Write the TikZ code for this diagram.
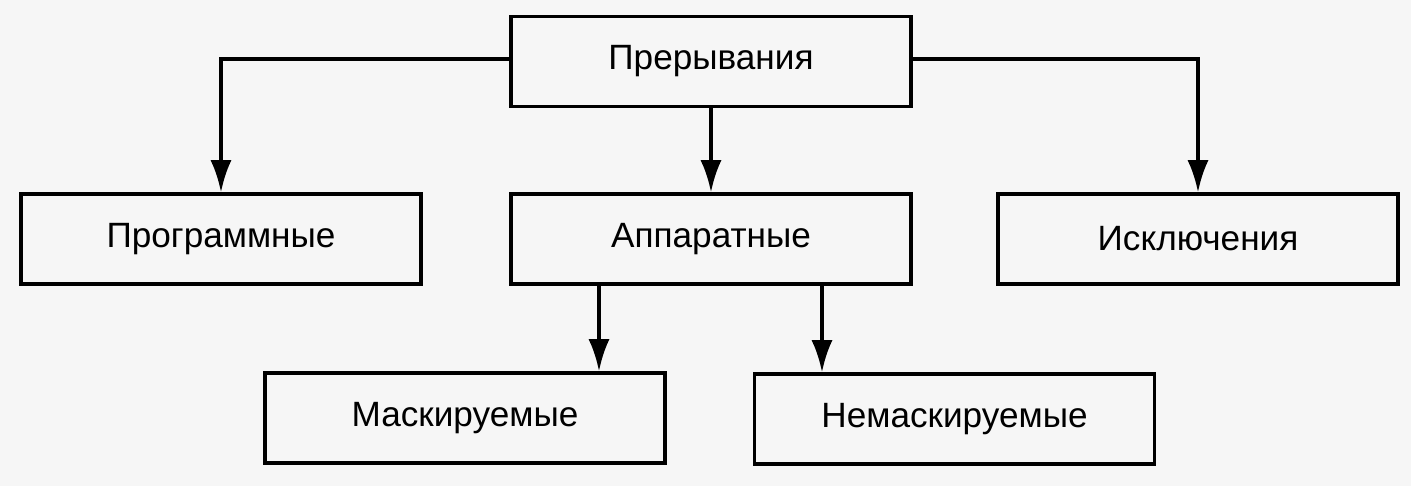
\documentclass[tikz,border=0pt]{standalone}
\usepackage{fontspec}
\setmainfont{Liberation Sans}
\usetikzlibrary{arrows.meta}
\definecolor{bgpaper}{RGB}{246,246,246}
\tikzset{
	box/.style={draw, line width=2pt, minimum width=8cm, minimum height=1.8cm, inner sep=0pt, font=\fontsize{20pt}{24pt}\selectfont},
	link/.style={line width=2pt, -{Latex[length=0.64cm, width=0.42cm]}}
}
\begin{document}
\begin{tikzpicture}
		%background
			\fill[bgpaper] (0,0) rectangle (28.22,9.72);
			\useasboundingbox (0,0) rectangle (28.22,9.72);
			
		%boxes
			\node[box] (irq) at (14.22, 8.49){Прерывания};
			\node[box] (soft) at (4.42, 4.94){Программные};
			\node[box] (hard) at (14.22, 4.94){Аппаратные};
			\node[box] (exc) at (23.96, 4.94){Исключения};
			\node[box] (mask) at (9.3, 1.36){Маскируемые};
			\node[box] (nmask) at (19.09, 1.34){Немаскируемые};
			
		%links
			\draw[link] ([yshift=0.05cm]irq.west) -| (soft.north);
			\draw[link] ([yshift=0.05cm]irq.east) -| (exc.north);
			\draw[link] (irq.south) -- (hard.north);
			\foreach \dx/\dst in {-2.24/mask, 2.22/nmask}{
				\draw[link] ([xshift=\dx cm]hard.south) -- ([xshift=\dx cm]hard.south |- \dst.north);
			}
		\end{tikzpicture}
\end{document}
